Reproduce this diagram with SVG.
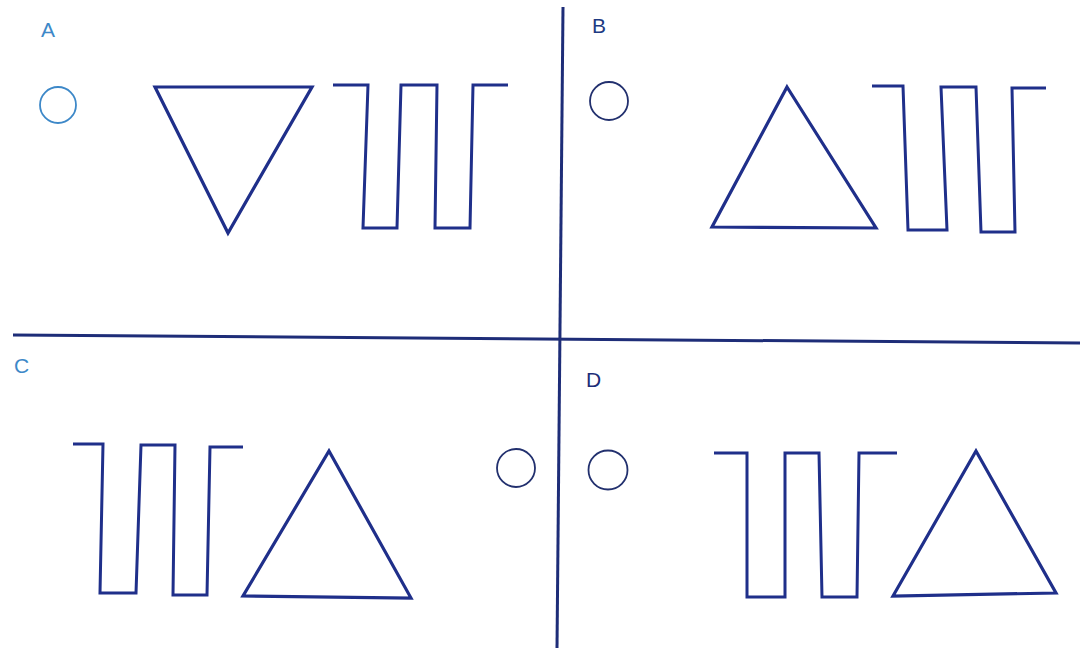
<svg xmlns="http://www.w3.org/2000/svg" width="1080" height="653" viewBox="0 0 1080 653">
<style>
.shape{fill:none;stroke:#1f2f8a;stroke-width:3.2;stroke-linejoin:miter}
.wave{fill:none;stroke:#1f2f8a;stroke-width:3;stroke-linejoin:miter}
.circ{fill:none;stroke:#22306e;stroke-width:1.8}
.circL{fill:none;stroke:#3d88c8;stroke-width:1.8}
.divider{stroke:#1e2d78;stroke-width:3;fill:none}
.lbl{font-family:"Liberation Sans",Arial,sans-serif;font-size:21px}
</style>
<rect width="1080" height="653" fill="#ffffff"/>
<g id="dividers">
<line class="divider" x1="563" y1="7" x2="557" y2="648"/>
<line class="divider" x1="13" y1="335" x2="1080" y2="343"/>
</g>
<g id="panelA">
<text class="lbl" x="41" y="37" fill="#3d88c8">A</text>
<circle class="circL" cx="58" cy="105" r="18"/>
<polygon class="shape" points="155,87 312,87 228,233"/>
<path class="wave" d="M333,85 H368 L363,228 H397 L401,85 H437 L435,228 H470 L473,85 H508"/>
</g>
<g id="panelB">
<text class="lbl" x="592" y="33" fill="#1e3a82">B</text>
<circle class="circ" cx="609" cy="101" r="19"/>
<polygon class="shape" points="787,87 876,228 712,227"/>
<path class="wave" d="M872,86 H903 L908,230 H947 L941,87 H976 L981,232 H1015 L1012,88 H1046"/>
</g>
<g id="panelC">
<text class="lbl" x="14" y="373" fill="#3d88c8">C</text>
<path class="wave" d="M73,444 H103 L100,593 H136 L141,445 H175 L173,595 H207 L210,447 H243"/>
<polygon class="shape" points="329,451 411,598 243,596"/>
<circle class="circ" cx="516" cy="468" r="19"/>
</g>
<g id="panelD">
<text class="lbl" x="586" y="387" fill="#1e2d78">D</text>
<circle class="circ" cx="608" cy="470" r="19.5"/>
<path class="wave" d="M714,453 H747 L747,597 H785 L785,453 H819 L822,597 H857 L859,453 H897"/>
<polygon class="shape" points="976,451 1056,593 893,596"/>
</g>
</svg>
